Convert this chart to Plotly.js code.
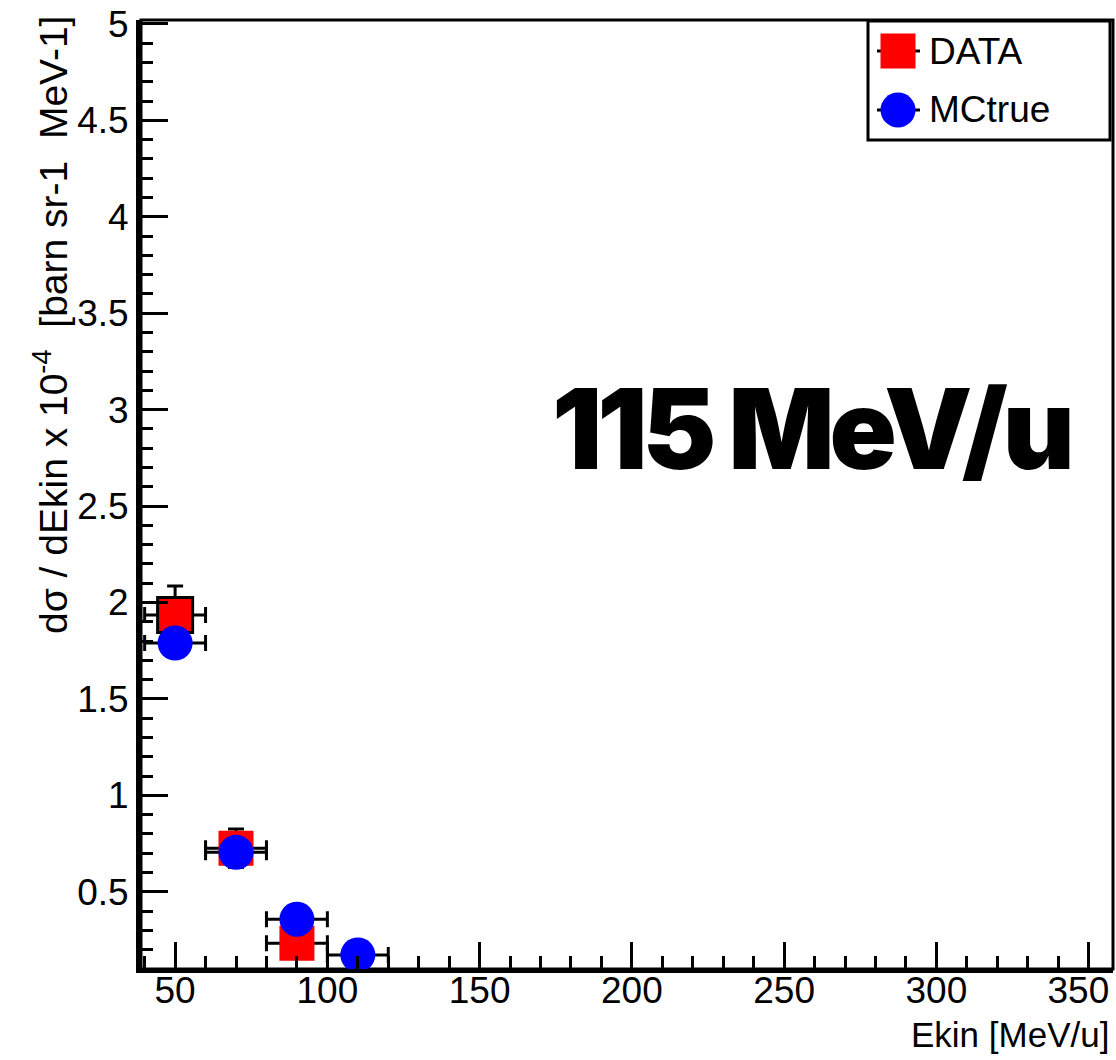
<!DOCTYPE html>
<html>
<head>
<meta charset="utf-8">
<script src="https://cdn.plot.ly/plotly-3.0.1.min.js"></script>
<style>
html,body{margin:0;padding:0;background:#fff;}
#chart{width:1116px;height:1060px;}
</style>
</head>
<body>
<div id="chart"></div>
<script>
// ---- data ----
const seriesNames = ['DATA', 'MCtrue'];
const dataX = [50, 70, 90];
const dataY = [1.935, 0.726, 0.233];
const dataYErr = [0.15, 0.10, 0.05];
const dataXErr = [10, 10, 10];
const mcX = [50, 70, 90, 110];
const mcY = [1.79, 0.705, 0.358, 0.173];
const mcXErr = [10, 10, 10, 10];
const xTickVals = [50, 100, 150, 200, 250, 300, 350];
const xTickText = ['50', '100', '150', '200', '250', '300', '350\u00a0\u00a0'];
const xTitle = 'Ekin [MeV/u]';
const yTitle = 'd\u03c3 / dEkin x 10<sup>-4</sup>  [barn sr-1  MeV-1]';
const bigLabel = '115 MeV/u';

// ---- geometry helpers (plot area in px) ----
const W = 1116, H = 1060;
const L = 141, R = 1113, T = 20, B = 969;
const px = x => (x - L) / (R - L);
const py = y => 1 - (y - T) / (B - T);

const font = 'Liberation Sans, Arial, Helvetica, sans-serif';

const traces = [
  {
    type: 'scatter', mode: 'markers', name: seriesNames[0],
    x: dataX, y: dataY, cliponaxis: false, showlegend: false,
    marker: {symbol: 'square', size: 35, color: '#ff0000',
             line: {color: '#000', width: [3, 0, 0]}},
    error_x: {type: 'data', array: dataXErr, visible: true, color: '#000', thickness: 3, width: 8},
    error_y: {type: 'data', array: dataYErr, visible: true, color: '#000', thickness: 3, width: 8}
  },
  {
    type: 'scatter', mode: 'markers', name: seriesNames[1],
    x: mcX, y: mcY, cliponaxis: false, showlegend: false,
    marker: {symbol: 'circle', size: 35, color: '#0000ff', line: {width: 0}},
    error_x: {type: 'data', array: mcXErr, visible: true, color: '#000', thickness: 3, width: 8}
  }
];

// custom legend (ROOT-style box with large markers)
const lgX0 = 868, lgX1 = 1110, lgY0 = 21, lgY1 = 140;
const rowY = [51, 110];
const symX = 898, half = 17.5;
const shapes = [
  {type: 'rect', xref: 'paper', yref: 'paper', x0: 0, x1: 1, y0: 0, y1: 1,
   line: {color: '#000', width: 3}, layer: 'below'},
  {type: 'rect', xref: 'paper', yref: 'paper', x0: px(lgX0), x1: px(lgX1), y0: py(lgY1), y1: py(lgY0),
   line: {color: '#000', width: 3}, fillcolor: '#fff', layer: 'above'},
];
rowY.forEach((ry, i) => {
  shapes.push({type: 'line', xref: 'paper', yref: 'paper', x0: px(877), x1: px(920), y0: py(ry), y1: py(ry),
               line: {color: '#000', width: 3}, layer: 'above'});
  shapes.push({type: i === 0 ? 'rect' : 'circle', xref: 'paper', yref: 'paper',
               x0: px(symX - half), x1: px(symX + half), y0: py(ry + half), y1: py(ry - half),
               fillcolor: i === 0 ? '#ff0000' : '#0000ff', line: {width: 0}, layer: 'above'});
});

const annotations = [
  {text: '<span style="letter-spacing:-5px">' + bigLabel + '</span>', xref: 'paper', yref: 'paper',
   x: px(1072), y: py(428), xanchor: 'right', yanchor: 'middle',
   showarrow: false, font: {family: 'Inter, Liberation Sans, Arial, sans-serif', size: 111, weight: 900, color: '#000'}},
  {text: xTitle, xref: 'paper', yref: 'paper', x: px(1111), y: py(1034), xanchor: 'right', yanchor: 'middle',
   showarrow: false, font: {family: font, size: 35, color: '#000'}},
  {text: yTitle, xref: 'paper', yref: 'paper', x: px(50), y: py(14), xanchor: 'center', yanchor: 'top',
   textangle: -90, showarrow: false, font: {family: font, size: 39, color: '#000'}},
];
seriesNames.forEach((n, i) => {
  annotations.push({text: n, xref: 'paper', yref: 'paper', x: px(927), y: py(rowY[i]), xanchor: 'left', yanchor: 'middle',
                    showarrow: false, font: {family: font, size: 37, color: '#000'}});
});

const layout = {
  width: W, height: H,
  margin: {l: L, r: W - R, t: T, b: H - B, pad: 0},
  paper_bgcolor: '#fff', plot_bgcolor: '#fff',
  showlegend: false,
  font: {family: font, color: '#000'},
  xaxis: {
    range: [38.8, 358], tickmode: 'array', tickvals: xTickVals, ticktext: xTickText,
    ticks: 'inside', ticklen: 27, tickwidth: 3, tickcolor: '#000',
    minor: {tick0: 0, dtick: 10, ticks: 'inside', ticklen: 13, tickwidth: 3, tickcolor: '#000', showgrid: false},
    showline: true, linewidth: 4, linecolor: '#000', mirror: false,
    showgrid: false, zeroline: false, ticklabeloverflow: 'allow',
    tickfont: {family: font, size: 37, color: '#000'}, ticklabelstandoff: -14
  },
  yaxis: {
    range: [0.1, 5.02], tick0: 0, dtick: 0.5,
    ticks: 'inside', ticklen: 27, tickwidth: 3, tickcolor: '#000',
    minor: {dtick: 0.1, ticks: 'inside', ticklen: 12, tickwidth: 3, tickcolor: '#000', showgrid: false},
    showline: true, linewidth: 5, linecolor: '#000', mirror: false,
    showgrid: false, zeroline: false, ticklabeloverflow: 'allow',
    tickfont: {family: font, size: 37, color: '#000'}, ticklabelstandoff: 0
  },
  shapes: shapes,
  annotations: annotations
};

Plotly.newPlot('chart', traces, layout, {displayModeBar: false, staticPlot: true});
</script>
</body>
</html>
